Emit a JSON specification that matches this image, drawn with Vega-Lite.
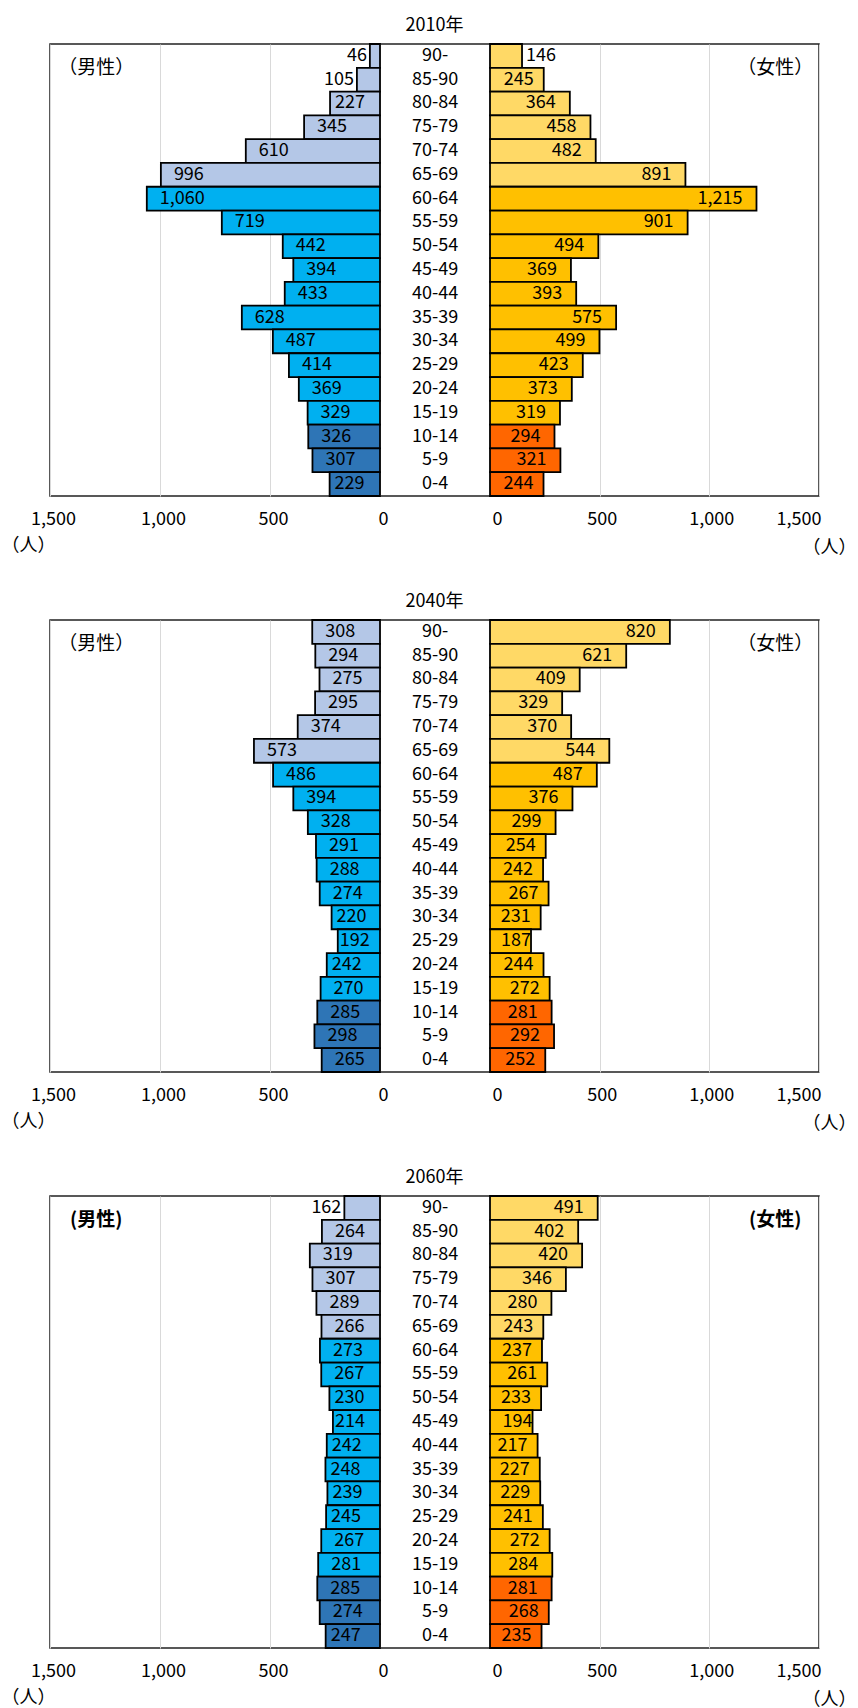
{
  "$schema": "https://vega.github.io/schema/vega-lite/v6.json",
  "padding": {"left": 0, "top": 16, "right": 0, "bottom": 0},
  "config": {
    "font": "Noto Sans CJK JP",
    "view": {"stroke": "#222", "strokeWidth": 1.5},
    "title": {"fontSize": 18, "fontWeight": "normal", "font": "Noto Sans CJK JP", "anchor": "middle", "offset": 8, "color": "#000"},
    "axis": {"labelFont": "Noto Sans CJK JP", "titleFont": "Noto Sans CJK JP", "labelColor": "#000", "titleColor": "#000"},
    "text": {"font": "Noto Sans CJK JP", "fontSize": 18, "color": "#000"}
  },
  "datasets": {
    "y2010": [
      {"age": "90-", "group": "65+", "male": 46, "female": 146},
      {"age": "85-90", "group": "65+", "male": 105, "female": 245},
      {"age": "80-84", "group": "65+", "male": 227, "female": 364},
      {"age": "75-79", "group": "65+", "male": 345, "female": 458},
      {"age": "70-74", "group": "65+", "male": 610, "female": 482},
      {"age": "65-69", "group": "65+", "male": 996, "female": 891},
      {"age": "60-64", "group": "15-64", "male": 1060, "female": 1215},
      {"age": "55-59", "group": "15-64", "male": 719, "female": 901},
      {"age": "50-54", "group": "15-64", "male": 442, "female": 494},
      {"age": "45-49", "group": "15-64", "male": 394, "female": 369},
      {"age": "40-44", "group": "15-64", "male": 433, "female": 393},
      {"age": "35-39", "group": "15-64", "male": 628, "female": 575},
      {"age": "30-34", "group": "15-64", "male": 487, "female": 499},
      {"age": "25-29", "group": "15-64", "male": 414, "female": 423},
      {"age": "20-24", "group": "15-64", "male": 369, "female": 373},
      {"age": "15-19", "group": "15-64", "male": 329, "female": 319},
      {"age": "10-14", "group": "0-14", "male": 326, "female": 294},
      {"age": "5-9", "group": "0-14", "male": 307, "female": 321},
      {"age": "0-4", "group": "0-14", "male": 229, "female": 244}
    ],
    "y2040": [
      {"age": "90-", "group": "65+", "male": 308, "female": 820},
      {"age": "85-90", "group": "65+", "male": 294, "female": 621},
      {"age": "80-84", "group": "65+", "male": 275, "female": 409},
      {"age": "75-79", "group": "65+", "male": 295, "female": 329},
      {"age": "70-74", "group": "65+", "male": 374, "female": 370},
      {"age": "65-69", "group": "65+", "male": 573, "female": 544},
      {"age": "60-64", "group": "15-64", "male": 486, "female": 487},
      {"age": "55-59", "group": "15-64", "male": 394, "female": 376},
      {"age": "50-54", "group": "15-64", "male": 328, "female": 299},
      {"age": "45-49", "group": "15-64", "male": 291, "female": 254},
      {"age": "40-44", "group": "15-64", "male": 288, "female": 242},
      {"age": "35-39", "group": "15-64", "male": 274, "female": 267},
      {"age": "30-34", "group": "15-64", "male": 220, "female": 231},
      {"age": "25-29", "group": "15-64", "male": 192, "female": 187},
      {"age": "20-24", "group": "15-64", "male": 242, "female": 244},
      {"age": "15-19", "group": "15-64", "male": 270, "female": 272},
      {"age": "10-14", "group": "0-14", "male": 285, "female": 281},
      {"age": "5-9", "group": "0-14", "male": 298, "female": 292},
      {"age": "0-4", "group": "0-14", "male": 265, "female": 252}
    ],
    "y2060": [
      {"age": "90-", "group": "65+", "male": 162, "female": 491},
      {"age": "85-90", "group": "65+", "male": 264, "female": 402},
      {"age": "80-84", "group": "65+", "male": 319, "female": 420},
      {"age": "75-79", "group": "65+", "male": 307, "female": 346},
      {"age": "70-74", "group": "65+", "male": 289, "female": 280},
      {"age": "65-69", "group": "65+", "male": 266, "female": 243},
      {"age": "60-64", "group": "15-64", "male": 273, "female": 237},
      {"age": "55-59", "group": "15-64", "male": 267, "female": 261},
      {"age": "50-54", "group": "15-64", "male": 230, "female": 233},
      {"age": "45-49", "group": "15-64", "male": 214, "female": 194},
      {"age": "40-44", "group": "15-64", "male": 242, "female": 217},
      {"age": "35-39", "group": "15-64", "male": 248, "female": 227},
      {"age": "30-34", "group": "15-64", "male": 239, "female": 229},
      {"age": "25-29", "group": "15-64", "male": 245, "female": 241},
      {"age": "20-24", "group": "15-64", "male": 267, "female": 272},
      {"age": "15-19", "group": "15-64", "male": 281, "female": 284},
      {"age": "10-14", "group": "0-14", "male": 285, "female": 281},
      {"age": "5-9", "group": "0-14", "male": 274, "female": 268},
      {"age": "0-4", "group": "0-14", "male": 247, "female": 235}
    ]
  },
  "spacing": 124,
  "bounds": "flush",
  "vconcat": [
    {
      "title": "2010年",
      "width": 769, "height": 452,
      "data": {"name": "y2010"},
      "encoding": {"y": {"field": "age", "type": "nominal", "axis": null, "scale": {"domain": ["90-","85-90","80-84","75-79","70-74","65-69","60-64","55-59","50-54","45-49","40-44","35-39","30-34","25-29","20-24","15-19","10-14","5-9","0-4"], "paddingInner": 0, "paddingOuter": 0}}},
      "resolve": {"scale": {"x": "independent", "color": "independent"}, "axis": {"x": "independent"}},
      "layer": [
        {
          "encoding": {"x": {"field": "male", "type": "quantitative", "scale": {"domain": [0, 1500], "range": [330, 0], "nice": false}, "axis": {"orient": "bottom", "values": [0, 500, 1000, 1500], "labelExpr": "format(datum.value, ',')", "title": "（人）", "grid": true, "gridColor": "#d9d9d9", "domain": false, "ticks": false, "labelPadding": 14, "labelFontSize": 18, "labelOffset": 3, "labelFlush": false, "titleX": -22, "titleY": 49, "titleAlign": "center", "titleBaseline": "middle", "titleFontSize": 18, "titleFontWeight": "normal"}}},
          "layer": [
            {"mark": {"type": "bar", "stroke": "#000", "strokeWidth": 1.8}, "encoding": {"color": {"field": "group", "type": "nominal", "legend": null, "scale": {"domain": ["65+", "15-64", "0-14"], "range": ["#B4C7E7", "#00B0F0", "#2E75B6"]}}}},
            {"transform": [{"filter": "datum.male < 170"}], "mark": {"type": "text", "align": "right", "baseline": "middle", "dx": -3}, "encoding": {"text": {"field": "male", "format": ","}}},
            {"transform": [{"filter": "datum.male >= 170 && datum.male < 215"}], "mark": {"type": "text", "align": "left", "baseline": "middle", "dx": 2}, "encoding": {"text": {"field": "male", "format": ","}}},
            {"transform": [{"filter": "datum.male >= 215 && datum.male < 255"}], "mark": {"type": "text", "align": "left", "baseline": "middle", "dx": 5}, "encoding": {"text": {"field": "male", "format": ","}}},
            {"transform": [{"filter": "datum.male >= 255"}], "mark": {"type": "text", "align": "left", "baseline": "middle", "dx": 13}, "encoding": {"text": {"field": "male", "format": ","}}},
            {"data": {"values": [{"t": "（男性）", "age": "85-90", "pos": 1290}]}, "mark": {"type": "text", "align": "center", "baseline": "middle", "fontSize": 19, "dy": -12}, "encoding": {"x": {"field": "pos", "type": "quantitative"}, "text": {"field": "t"}}}
          ]
        },
        {
          "encoding": {"x": {"field": "female", "type": "quantitative", "scale": {"domain": [0, 1500], "range": [440, 769], "nice": false}, "axis": {"orient": "bottom", "values": [0, 500, 1000, 1500], "labelExpr": "format(datum.value, ',')", "title": "（人）", "grid": true, "gridColor": "#d9d9d9", "domain": false, "ticks": false, "labelPadding": 14, "labelFontSize": 18, "labelOffset": 2, "labelFlush": true, "titleX": 806, "titleY": 51, "titleAlign": "right", "titleBaseline": "middle", "titleFontSize": 18, "titleFontWeight": "normal"}}},
          "layer": [
            {"mark": {"type": "bar", "stroke": "#000", "strokeWidth": 1.8}, "encoding": {"color": {"field": "group", "type": "nominal", "legend": null, "scale": {"domain": ["65+", "15-64", "0-14"], "range": ["#FFD966", "#FFC000", "#FF6600"]}}}},
            {"transform": [{"filter": "datum.female < 170"}], "mark": {"type": "text", "align": "left", "baseline": "middle", "dx": 4}, "encoding": {"text": {"field": "female", "format": ","}}},
            {"transform": [{"filter": "datum.female >= 170 && datum.female < 200"}], "mark": {"type": "text", "align": "right", "baseline": "middle", "dx": 0}, "encoding": {"text": {"field": "female", "format": ","}}},
            {"transform": [{"filter": "datum.female >= 200 && datum.female < 280"}], "mark": {"type": "text", "align": "right", "baseline": "middle", "dx": -10}, "encoding": {"text": {"field": "female", "format": ","}}},
            {"transform": [{"filter": "datum.female >= 280"}], "mark": {"type": "text", "align": "right", "baseline": "middle", "dx": -14}, "encoding": {"text": {"field": "female", "format": ","}}},
            {"mark": {"type": "text", "align": "center", "baseline": "middle"}, "encoding": {"x": {"datum": -250, "type": "quantitative"}, "text": {"field": "age"}}},
            {"data": {"values": [{"t": "（女性）", "age": "85-90", "pos": 1300}]}, "mark": {"type": "text", "align": "center", "baseline": "middle", "fontSize": 19, "dy": -12}, "encoding": {"x": {"field": "pos", "type": "quantitative"}, "text": {"field": "t"}}}
          ]
        }
      ]
    },
    {
      "title": "2040年",
      "width": 769, "height": 452,
      "data": {"name": "y2040"},
      "encoding": {"y": {"field": "age", "type": "nominal", "axis": null, "scale": {"domain": ["90-","85-90","80-84","75-79","70-74","65-69","60-64","55-59","50-54","45-49","40-44","35-39","30-34","25-29","20-24","15-19","10-14","5-9","0-4"], "paddingInner": 0, "paddingOuter": 0}}},
      "resolve": {"scale": {"x": "independent", "color": "independent"}, "axis": {"x": "independent"}},
      "layer": [
        {
          "encoding": {"x": {"field": "male", "type": "quantitative", "scale": {"domain": [0, 1500], "range": [330, 0], "nice": false}, "axis": {"orient": "bottom", "values": [0, 500, 1000, 1500], "labelExpr": "format(datum.value, ',')", "title": "（人）", "grid": true, "gridColor": "#d9d9d9", "domain": false, "ticks": false, "labelPadding": 14, "labelFontSize": 18, "labelOffset": 3, "labelFlush": false, "titleX": -22, "titleY": 49, "titleAlign": "center", "titleBaseline": "middle", "titleFontSize": 18, "titleFontWeight": "normal"}}},
          "layer": [
            {"mark": {"type": "bar", "stroke": "#000", "strokeWidth": 1.8}, "encoding": {"color": {"field": "group", "type": "nominal", "legend": null, "scale": {"domain": ["65+", "15-64", "0-14"], "range": ["#B4C7E7", "#00B0F0", "#2E75B6"]}}}},
            {"transform": [{"filter": "datum.male < 170"}], "mark": {"type": "text", "align": "right", "baseline": "middle", "dx": -3}, "encoding": {"text": {"field": "male", "format": ","}}},
            {"transform": [{"filter": "datum.male >= 170 && datum.male < 215"}], "mark": {"type": "text", "align": "left", "baseline": "middle", "dx": 2}, "encoding": {"text": {"field": "male", "format": ","}}},
            {"transform": [{"filter": "datum.male >= 215 && datum.male < 255"}], "mark": {"type": "text", "align": "left", "baseline": "middle", "dx": 5}, "encoding": {"text": {"field": "male", "format": ","}}},
            {"transform": [{"filter": "datum.male >= 255"}], "mark": {"type": "text", "align": "left", "baseline": "middle", "dx": 13}, "encoding": {"text": {"field": "male", "format": ","}}},
            {"data": {"values": [{"t": "（男性）", "age": "85-90", "pos": 1290}]}, "mark": {"type": "text", "align": "center", "baseline": "middle", "fontSize": 19, "dy": -12}, "encoding": {"x": {"field": "pos", "type": "quantitative"}, "text": {"field": "t"}}}
          ]
        },
        {
          "encoding": {"x": {"field": "female", "type": "quantitative", "scale": {"domain": [0, 1500], "range": [440, 769], "nice": false}, "axis": {"orient": "bottom", "values": [0, 500, 1000, 1500], "labelExpr": "format(datum.value, ',')", "title": "（人）", "grid": true, "gridColor": "#d9d9d9", "domain": false, "ticks": false, "labelPadding": 14, "labelFontSize": 18, "labelOffset": 2, "labelFlush": true, "titleX": 806, "titleY": 51, "titleAlign": "right", "titleBaseline": "middle", "titleFontSize": 18, "titleFontWeight": "normal"}}},
          "layer": [
            {"mark": {"type": "bar", "stroke": "#000", "strokeWidth": 1.8}, "encoding": {"color": {"field": "group", "type": "nominal", "legend": null, "scale": {"domain": ["65+", "15-64", "0-14"], "range": ["#FFD966", "#FFC000", "#FF6600"]}}}},
            {"transform": [{"filter": "datum.female < 170"}], "mark": {"type": "text", "align": "left", "baseline": "middle", "dx": 4}, "encoding": {"text": {"field": "female", "format": ","}}},
            {"transform": [{"filter": "datum.female >= 170 && datum.female < 200"}], "mark": {"type": "text", "align": "right", "baseline": "middle", "dx": 0}, "encoding": {"text": {"field": "female", "format": ","}}},
            {"transform": [{"filter": "datum.female >= 200 && datum.female < 280"}], "mark": {"type": "text", "align": "right", "baseline": "middle", "dx": -10}, "encoding": {"text": {"field": "female", "format": ","}}},
            {"transform": [{"filter": "datum.female >= 280"}], "mark": {"type": "text", "align": "right", "baseline": "middle", "dx": -14}, "encoding": {"text": {"field": "female", "format": ","}}},
            {"mark": {"type": "text", "align": "center", "baseline": "middle"}, "encoding": {"x": {"datum": -250, "type": "quantitative"}, "text": {"field": "age"}}},
            {"data": {"values": [{"t": "（女性）", "age": "85-90", "pos": 1300}]}, "mark": {"type": "text", "align": "center", "baseline": "middle", "fontSize": 19, "dy": -12}, "encoding": {"x": {"field": "pos", "type": "quantitative"}, "text": {"field": "t"}}}
          ]
        }
      ]
    },
    {
      "title": "2060年",
      "width": 769, "height": 452,
      "data": {"name": "y2060"},
      "encoding": {"y": {"field": "age", "type": "nominal", "axis": null, "scale": {"domain": ["90-","85-90","80-84","75-79","70-74","65-69","60-64","55-59","50-54","45-49","40-44","35-39","30-34","25-29","20-24","15-19","10-14","5-9","0-4"], "paddingInner": 0, "paddingOuter": 0}}},
      "resolve": {"scale": {"x": "independent", "color": "independent"}, "axis": {"x": "independent"}},
      "layer": [
        {
          "encoding": {"x": {"field": "male", "type": "quantitative", "scale": {"domain": [0, 1500], "range": [330, 0], "nice": false}, "axis": {"orient": "bottom", "values": [0, 500, 1000, 1500], "labelExpr": "format(datum.value, ',')", "title": "（人）", "grid": true, "gridColor": "#d9d9d9", "domain": false, "ticks": false, "labelPadding": 14, "labelFontSize": 18, "labelOffset": 3, "labelFlush": false, "titleX": -22, "titleY": 49, "titleAlign": "center", "titleBaseline": "middle", "titleFontSize": 18, "titleFontWeight": "normal"}}},
          "layer": [
            {"mark": {"type": "bar", "stroke": "#000", "strokeWidth": 1.8}, "encoding": {"color": {"field": "group", "type": "nominal", "legend": null, "scale": {"domain": ["65+", "15-64", "0-14"], "range": ["#B4C7E7", "#00B0F0", "#2E75B6"]}}}},
            {"transform": [{"filter": "datum.male < 170"}], "mark": {"type": "text", "align": "right", "baseline": "middle", "dx": -3}, "encoding": {"text": {"field": "male", "format": ","}}},
            {"transform": [{"filter": "datum.male >= 170 && datum.male < 215"}], "mark": {"type": "text", "align": "left", "baseline": "middle", "dx": 2}, "encoding": {"text": {"field": "male", "format": ","}}},
            {"transform": [{"filter": "datum.male >= 215 && datum.male < 255"}], "mark": {"type": "text", "align": "left", "baseline": "middle", "dx": 5}, "encoding": {"text": {"field": "male", "format": ","}}},
            {"transform": [{"filter": "datum.male >= 255"}], "mark": {"type": "text", "align": "left", "baseline": "middle", "dx": 13}, "encoding": {"text": {"field": "male", "format": ","}}},
            {"data": {"values": [{"t": "(男性)", "age": "85-90", "pos": 1290}]}, "mark": {"type": "text", "align": "center", "baseline": "middle", "fontSize": 19, "fontWeight": "bold", "dy": -12}, "encoding": {"x": {"field": "pos", "type": "quantitative"}, "text": {"field": "t"}}}
          ]
        },
        {
          "encoding": {"x": {"field": "female", "type": "quantitative", "scale": {"domain": [0, 1500], "range": [440, 769], "nice": false}, "axis": {"orient": "bottom", "values": [0, 500, 1000, 1500], "labelExpr": "format(datum.value, ',')", "title": "（人）", "grid": true, "gridColor": "#d9d9d9", "domain": false, "ticks": false, "labelPadding": 14, "labelFontSize": 18, "labelOffset": 2, "labelFlush": true, "titleX": 806, "titleY": 51, "titleAlign": "right", "titleBaseline": "middle", "titleFontSize": 18, "titleFontWeight": "normal"}}},
          "layer": [
            {"mark": {"type": "bar", "stroke": "#000", "strokeWidth": 1.8}, "encoding": {"color": {"field": "group", "type": "nominal", "legend": null, "scale": {"domain": ["65+", "15-64", "0-14"], "range": ["#FFD966", "#FFC000", "#FF6600"]}}}},
            {"transform": [{"filter": "datum.female < 170"}], "mark": {"type": "text", "align": "left", "baseline": "middle", "dx": 4}, "encoding": {"text": {"field": "female", "format": ","}}},
            {"transform": [{"filter": "datum.female >= 170 && datum.female < 200"}], "mark": {"type": "text", "align": "right", "baseline": "middle", "dx": 0}, "encoding": {"text": {"field": "female", "format": ","}}},
            {"transform": [{"filter": "datum.female >= 200 && datum.female < 280"}], "mark": {"type": "text", "align": "right", "baseline": "middle", "dx": -10}, "encoding": {"text": {"field": "female", "format": ","}}},
            {"transform": [{"filter": "datum.female >= 280"}], "mark": {"type": "text", "align": "right", "baseline": "middle", "dx": -14}, "encoding": {"text": {"field": "female", "format": ","}}},
            {"mark": {"type": "text", "align": "center", "baseline": "middle"}, "encoding": {"x": {"datum": -250, "type": "quantitative"}, "text": {"field": "age"}}},
            {"data": {"values": [{"t": "(女性)", "age": "85-90", "pos": 1300}]}, "mark": {"type": "text", "align": "center", "baseline": "middle", "fontSize": 19, "fontWeight": "bold", "dy": -12}, "encoding": {"x": {"field": "pos", "type": "quantitative"}, "text": {"field": "t"}}}
          ]
        }
      ]
    }
  ]
}
